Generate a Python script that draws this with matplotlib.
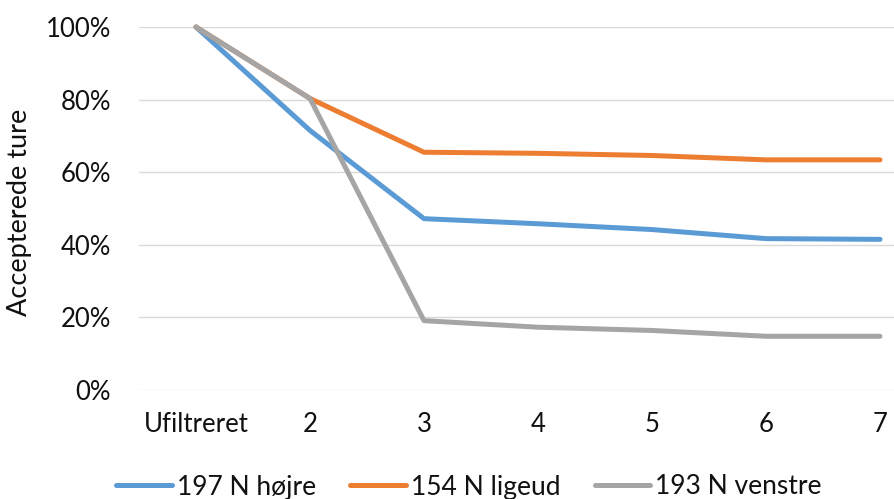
import matplotlib
matplotlib.use("Agg")
import matplotlib.pyplot as plt
from matplotlib.ticker import PercentFormatter

categories = ["Ufiltreret", "2", "3", "4", "5", "6", "7"]
hojre = [100, 71.5, 47.2, 45.8, 44.2, 41.7, 41.5]
ligeud = [100, 80.3, 65.5, 65.2, 64.6, 63.4, 63.4]
venstre = [100, 80.3, 19.1, 17.3, 16.4, 14.8, 14.8]
series_names = ["197 N højre", "154 N ligeud", "193 N venstre"]
colors = ["#5B9BD5", "#ED7D31", "#A5A5A5"]

plt.rcParams["font.family"] = ["Lato", "DejaVu Sans"]
W, H = 895, 499
fig = plt.figure(figsize=(W / 100, H / 100), dpi=100)
left, right, top, bottom = 139, 937, 27, 390
ax = fig.add_axes([left / W, 1 - bottom / H, (right - left) / W, (bottom - top) / H])

x = list(range(len(categories)))
for vals, name, c in zip([hojre, ligeud, venstre], series_names, colors):
    ax.plot(x, vals, color=c, lw=3.6, label=name, solid_capstyle="round",
            solid_joinstyle="round", clip_on=False)

ax.set_xlim(-0.5, len(categories) - 0.5)
ax.set_ylim(0, 100)
ax.set_yticks([0, 20, 40, 60, 80, 100])
ax.yaxis.set_major_formatter(PercentFormatter(decimals=0))
ax.set_xticks(x)
ax.set_xticklabels(categories)
ax.grid(axis="y", color="#D9D9D9", lw=1.0)
ax.set_axisbelow(True)
for s in ax.spines.values():
    s.set_visible(False)
ax.tick_params(axis="both", length=0, labelsize=18.5, colors="#111111")
ax.tick_params(axis="x", pad=16)
ax.tick_params(axis="y", pad=20)
ax.set_ylabel("Accepterede ture", fontsize=19.5, color="#111111")
ax.yaxis.set_label_coords(-107 / (right - left), 0.49)

handles, labels = ax.get_legend_handles_labels()
fig.legend(handles, labels, loc="center", bbox_to_anchor=(469 / W, 1 - 487 / H),
           ncol=3, frameon=False, fontsize=19, handlelength=2.1, handletextpad=0.2,
           columnspacing=1.3, labelcolor="#111111")

fig.savefig("out.png", dpi=100)
